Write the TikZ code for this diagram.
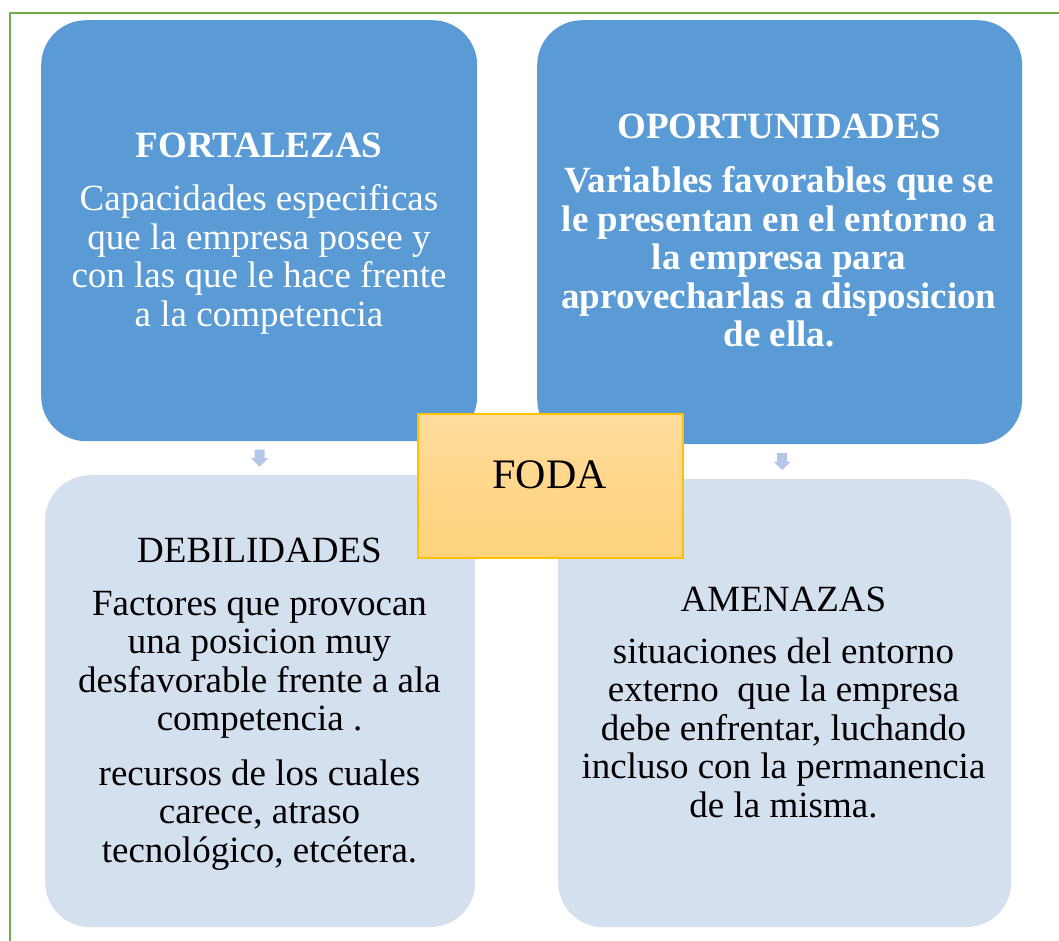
\documentclass[tikz,border=0pt]{standalone}
\usepackage{fontspec}
\setmainfont{Liberation Serif}
\usetikzlibrary{calc}
\definecolor{topblue}{RGB}{91,155,213}
\definecolor{lightblue}{RGB}{213,224,239}
\definecolor{arrowblue}{RGB}{180,199,231}
\definecolor{fodatop}{RGB}{255,220,156}
\definecolor{fodabot}{RGB}{255,211,124}
\definecolor{fodaedge}{RGB}{255,192,0}
\definecolor{framegreen}{RGB}{112,173,71}
\begin{document}
\begin{tikzpicture}[x=1pt,y=-1pt,
  topbox/.style={draw=none, fill=topblue, rounded corners=45pt, inner sep=0pt, anchor=north west},
  lowbox/.style={draw=none, fill=lightblue, rounded corners=45pt, inner sep=0pt, anchor=north west},
  fodabox/.style={draw=fodaedge, line width=1.5pt, top color=fodatop, bottom color=fodabot, inner sep=0pt, anchor=north west},
  bodytext/.style={align=center, inner sep=0pt, anchor=north, font=\fontsize{37pt}{38.5pt}\selectfont},
  downarrow/.style={fill=arrowblue, draw=none},
  frameline/.style={draw=framegreen, line width=2.2pt}
]
\useasboundingbox (0,0) rectangle (1059,940);
\fill[white] (0,0) rectangle (1059,940);
\draw[frameline] (10,950) -- (10,13) -- (1070,13);

\node[topbox, minimum width=436pt, minimum height=421pt] (F) at (41,20) {};
\node[topbox, minimum width=485pt, minimum height=424pt] (O) at (537,20) {};
\node[lowbox, minimum width=430pt, minimum height=452pt] (D) at (45,475) {};
\node[lowbox, minimum width=453pt, minimum height=448pt] (A) at (558,479) {};

\node[bodytext, text=white] (Ftext) at (259,127) {\rule{0pt}{30pt}\textbf{FORTALEZAS}\\[15pt]
  Capacidades especificas\\ que la empresa posee y\\ con las que le hace frente\\ a la competencia};
\node[bodytext, text=white, font=\fontsize{37pt}{38.5pt}\selectfont\bfseries] (Otext) at (779,108) {\rule{0pt}{30pt}OPORTUNIDADES\\[16pt]
  Variables favorables que se\\ le presentan en el entorno a\\ la empresa para\\ aprovecharlas a disposicion\\ de ella.};
\node[bodytext, text=black] (Dtext) at (259.5,532) {\rule{0pt}{30pt}DEBILIDADES\\[14.5pt]
  Factores que provocan\\ una posicion muy\\ desfavorable frente a ala\\ competencia .\\[16pt]
  recursos de los cuales\\ carece, atraso\\ tecnológico, etcétera.};
\node[bodytext, text=black] (Atext) at (783.5,581) {\rule{0pt}{30pt}AMENAZAS\\[13.5pt]
  situaciones del entorno\\ externo\ \ que la empresa\\ debe enfrentar, luchando\\ incluso con la permanencia\\ de la misma.};

\coordinate (m1) at ($(F.south)!0.5!(D.north)$);
\coordinate (m2) at ($(O.south)!0.5!(A.north)$);
\fill[downarrow, shift={(m1)}] (-5,-8.5) -- (5,-8.5) -- (5,0) -- (8.5,0) -- (0,8.5) -- (-8.5,0) -- (-5,0) -- cycle;
\fill[downarrow, shift={(m2)}] (-5,-8.5) -- (5,-8.5) -- (5,0) -- (8.5,0) -- (0,8.5) -- (-8.5,0) -- (-5,0) -- cycle;

\node[fodabox, minimum width=265pt, minimum height=144pt] (C) at (417,413) {};
\node[inner sep=0pt, anchor=base, font=\fontsize{42pt}{46pt}\selectfont] (Ctext) at (549.5,488) {FODA};
\end{tikzpicture}
\end{document}
